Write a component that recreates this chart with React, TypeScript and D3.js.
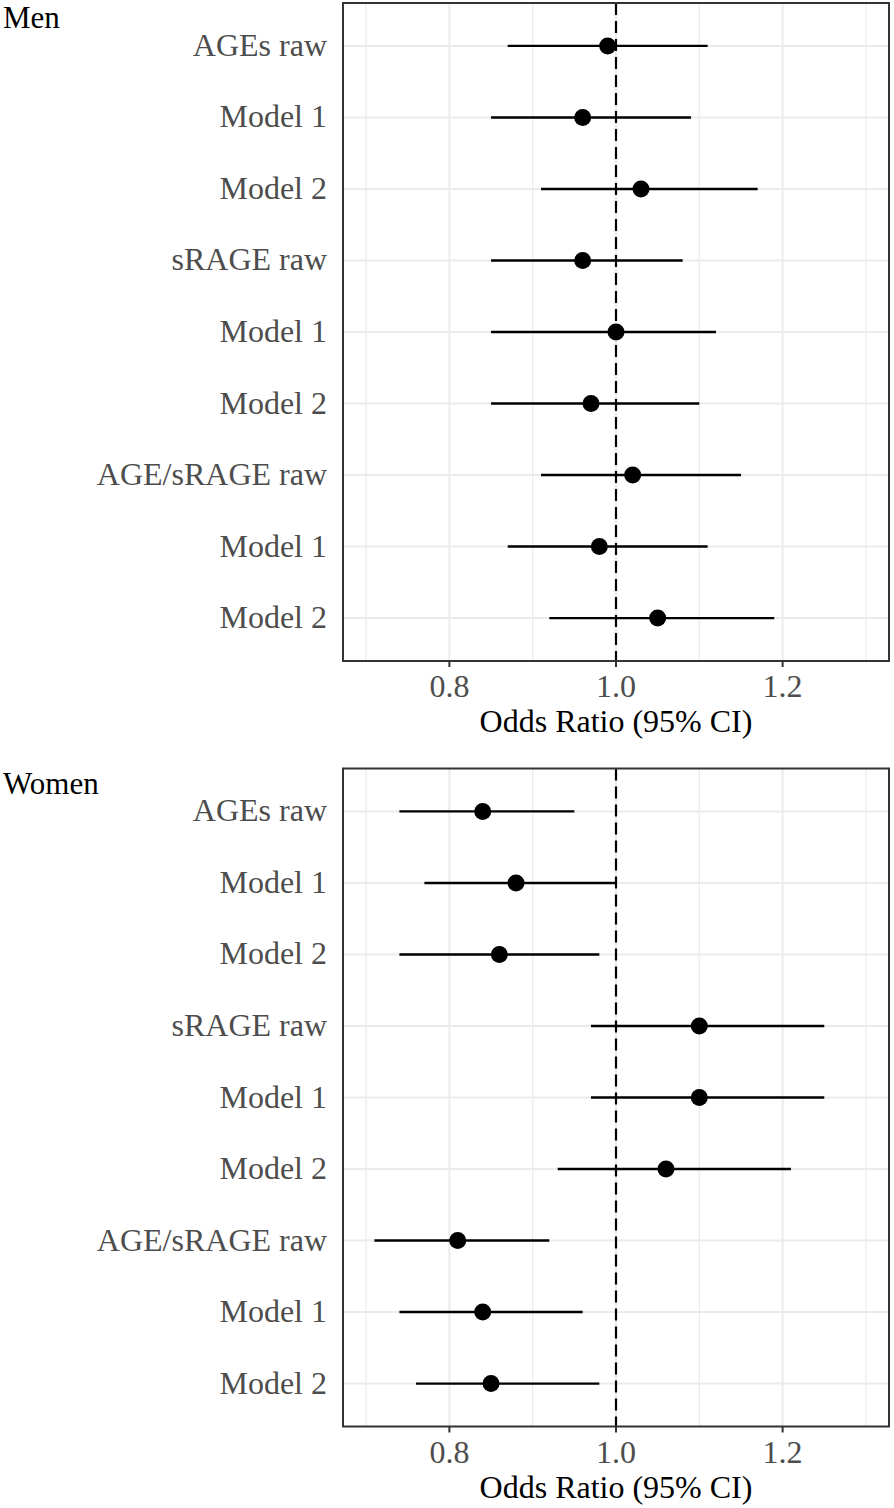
import React from "react";
import * as d3 from "d3";

const rowLabels = ["AGEs raw", "Model 1", "Model 2", "sRAGE raw", "Model 1", "Model 2", "AGE/sRAGE raw", "Model 1", "Model 2"];

const menOR = [0.99, 0.96, 1.03, 0.96, 1.0, 0.97, 1.02, 0.98, 1.05];
const menLower = [0.87, 0.85, 0.91, 0.85, 0.85, 0.85, 0.91, 0.87, 0.92];
const menUpper = [1.11, 1.09, 1.17, 1.08, 1.12, 1.1, 1.15, 1.11, 1.19];

const womenOR = [0.84, 0.88, 0.86, 1.1, 1.1, 1.06, 0.81, 0.84, 0.85];
const womenLower = [0.74, 0.77, 0.74, 0.97, 0.97, 0.93, 0.71, 0.74, 0.76];
const womenUpper = [0.95, 1.0, 0.98, 1.25, 1.25, 1.21, 0.92, 0.96, 0.98];

const majorTicks = [0.8, 1.0, 1.2];
const minorTicks = [0.7, 0.9, 1.1, 1.3];
const xDomain = [0.6723, 1.3277];
const refValue = 1.0;
const axisTitle = "Odds Ratio (95% CI)";

const W = 894;
const H = 1508;
const FONT = "'Liberation Serif', 'Times New Roman', Times, serif";
const left = 343;
const right = 889;

const x = d3.scaleLinear().domain(xDomain).range([left, right]);

type PanelProps = {
  title: string;
  titleY: number;
  top: number;
  bottom: number;
  or: number[];
  lower: number[];
  upper: number[];
};

function Panel({ title, titleY, top, bottom, or, lower, upper }: PanelProps) {
  const idx = rowLabels.map((_, i) => String(i));
  const y = d3.scalePoint<string>().domain(idx).range([top, bottom]).padding(0.6);
  const fmt = d3.format(".1f");
  return (
    <g>
      <rect x={left} y={top} width={right - left} height={bottom - top} fill="#FFFFFF" />
      {minorTicks.map((t) => (
        <line key={"mn" + t} x1={x(t)} x2={x(t)} y1={top} y2={bottom} stroke="#EBEBEB" strokeWidth={1.2} />
      ))}
      {majorTicks.map((t) => (
        <line key={"mj" + t} x1={x(t)} x2={x(t)} y1={top} y2={bottom} stroke="#EBEBEB" strokeWidth={2} />
      ))}
      {idx.map((k) => (
        <line key={"hy" + k} x1={left} x2={right} y1={y(k)!} y2={y(k)!} stroke="#EBEBEB" strokeWidth={2} />
      ))}
      <line x1={x(refValue)} x2={x(refValue)} y1={top} y2={bottom} stroke="#000" strokeWidth={2.2} strokeDasharray="12,6" />
      {idx.map((k, i) => (
        <g key={"pt" + k}>
          <line x1={x(lower[i])} x2={x(upper[i])} y1={y(k)!} y2={y(k)!} stroke="#000" strokeWidth={2.4} />
          <circle cx={x(or[i])} cy={y(k)!} r={8.5} fill="#000" />
        </g>
      ))}
      <rect x={left} y={top} width={right - left} height={bottom - top} fill="none" stroke="#333333" strokeWidth={2} />
      {idx.map((k, i) => (
        <text key={"lb" + k} x={327} y={y(k)! + 10} textAnchor="end" fontFamily={FONT} fontSize={32} fill="#4D4D4D">
          {rowLabels[i]}
        </text>
      ))}
      {majorTicks.map((t) => (
        <g key={"tk" + t}>
          <line x1={x(t)} x2={x(t)} y1={bottom} y2={bottom + 6} stroke="#333333" strokeWidth={2} />
          <text x={x(t)} y={bottom + 36} textAnchor="middle" fontFamily={FONT} fontSize={32} fill="#4D4D4D">
            {fmt(t)}
          </text>
        </g>
      ))}
      <text x={(left + right) / 2} y={bottom + 71} textAnchor="middle" fontFamily={FONT} fontSize={32} fill="#000">
        {axisTitle}
      </text>
      <text x={3} y={titleY} fontFamily={FONT} fontSize={31} fill="#000">
        {title}
      </text>
    </g>
  );
}

export default function App() {
  return (
    <svg width={W} height={H} style={{ position: "absolute", left: 0, top: 0, background: "#fff" }}>
      <rect x={0} y={0} width={W} height={H} fill="#fff" />
      <Panel title="Men" titleY={28} top={3} bottom={661} or={menOR} lower={menLower} upper={menUpper} />
      <Panel title="Women" titleY={794} top={768.5} bottom={1426.5} or={womenOR} lower={womenLower} upper={womenUpper} />
    </svg>
  );
}
